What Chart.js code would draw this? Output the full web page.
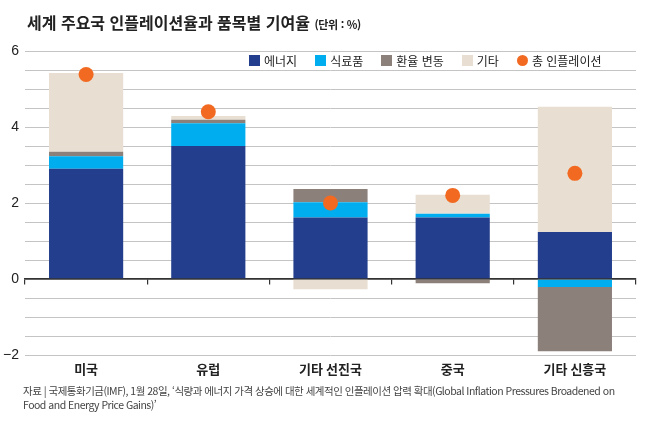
<!DOCTYPE html>
<html lang="ko">
<head>
<meta charset="utf-8">
<script src="https://cdn.jsdelivr.net/npm/chart.js@4/dist/chart.umd.min.js"></script>
<style>
  html, body { margin: 0; padding: 0; background: #fff; }
  #wrap { position: relative; width: 650px; height: 427px; overflow: hidden; font-family: 'Noto Sans CJK KR', sans-serif; }
  #chart { position: absolute; left: 0; top: 0; }
  #title { position: absolute; left: 27px; top: 10px; font-size: 16px; font-weight: bold; color: #222; letter-spacing: 0; white-space: nowrap; }
  #title small { font-size: 11px; letter-spacing: -0.3px; }
  #legend { position: absolute; left: 249px; top: 52px; display: flex; font-size: 12px; color: #222; white-space: nowrap; }
  #legend span.item { display: inline-flex; align-items: center; margin-right: 18px; }
  #legend span.box { width: 11px; height: 11px; margin-right: 4px; display: inline-block; }
  #legend span.dot { width: 11px; height: 11px; border-radius: 50%; margin-right: 4px; display: inline-block; }
  #source { position: absolute; left: 23px; top: 384px; font-size: 10.5px; line-height: 14px; color: #444; letter-spacing: -0.5px; white-space: nowrap; }
</style>
</head>
<body>
<div id="wrap">
  <canvas id="chart" width="650" height="427"></canvas>
  <div id="title">세계 주요국 인플레이션율과 품목별 기여율 <small>(단위 : %)</small></div>
  <div id="legend"></div>
  <div id="source">자료 | 국제통화기금(IMF), 1월 28일, ‘식량과 에너지 가격 상승에 대한 세계적인 인플레이션 압력 확대(Global Inflation Pressures Broadened on<br>Food and Energy Price Gains)’</div>
</div>
<script>
// 국가/권역별 품목 기여율 (%p)
const categories = ["미국", "유럽", "기타 선진국", "중국", "기타 신흥국"];
const energy = [2.9, 3.5, 1.62, 1.62, 1.24];
const food = [0.33, 0.6, 0.4, 0.1, -0.21];
const fxChange = [0.12, 0.09, 0.35, -0.11, -1.69];
const other = [2.07, 0.1, -0.27, 0.5, 3.29];
const totalInflation = [5.38, 4.4, 2.0, 2.2, 2.78];
const yTickLabels = [-2, 0, 2, 4, 6];

Chart.defaults.font.family = "'Noto Sans CJK KR', 'Liberation Sans', sans-serif";
Chart.defaults.color = "#222";
Chart.defaults.borderColor = "rgba(0,0,0,0)";

// html 범례 (데이터셋에서 생성)
const htmlLegend = {
  id: "htmlLegend",
  afterUpdate(chart) {
    const box = document.getElementById("legend");
    box.innerHTML = chart.data.datasets.map(ds => {
      const cls = ds.type === "line" ? "dot" : "box";
      return `<span class="item"><span class="${cls}" style="background:${ds.backgroundColor}"></span>${ds.label}</span>`;
    }).join("");
  }
};

const ctx = document.getElementById("chart").getContext("2d");
new Chart(ctx, {
  type: "bar",
  data: {
    labels: categories,
    datasets: [
      { label: "에너지", data: energy, backgroundColor: "#233E8C", order: 1 },
      { label: "식료품", data: food, backgroundColor: "#00AEEF", order: 1 },
      { label: "환율 변동", data: fxChange, backgroundColor: "#8C807B", order: 1 },
      { label: "기타", data: other, backgroundColor: "#E8DED1", order: 1 },
      {
        type: "line", label: "총 인플레이션", data: totalInflation, stack: "total",
        showLine: false, backgroundColor: "#F26A21", borderColor: "#F26A21",
        pointRadius: 7.5, pointBorderWidth: 0, pointHoverRadius: 7.5, order: 0
      }
    ]
  },
  options: {
    responsive: false,
    animation: false,
    layout: { padding: { left: 0, right: 14, top: 51, bottom: 42 } },
    datasets: { bar: { categoryPercentage: 1, barPercentage: 0.607, borderWidth: 0 } },
    plugins: { legend: { display: false }, tooltip: { enabled: false } },
    scales: {
      x: {
        stacked: true,
        grid: { display: false, drawTicks: false },
        border: { display: false, color: "rgba(0,0,0,0)", width: 0 },
        ticks: { padding: 6, font: { size: 13, weight: "bold" }, color: "#222" },
        afterFit(scale) { scale.height = 30; }
      },
      // 0 기준선과 구간 눈금
      x2: {
        type: "category",
        labels: categories,
        position: { y: 0 },
        offset: true,
        grid: { offset: true, drawOnChartArea: false, tickLength: 5, color: "#333", lineWidth: 1.2 },
        border: { display: true, color: "#333", width: 1.5 },
        ticks: { display: false },
        afterFit(scale) { scale.height = 0; }
      },
      y: {
        stacked: true,
        min: -2,
        max: 6,
        border: { display: false, color: "rgba(0,0,0,0)", width: 0 },
        grid: {
          drawTicks: false,
          color: c => c.tick.value === 0 ? "#333" : "#C4C4C4",
          lineWidth: c => c.tick.value === 0 ? 1.5 : 1
        },
        ticks: {
          stepSize: 0.5,
          padding: 6,
          autoSkip: false,
          font: { size: 14, family: "'Liberation Sans', sans-serif" },
          color: "#222",
          callback: v => yTickLabels.includes(v) ? (v < 0 ? "−" + Math.abs(v) : String(v)) : ""
        },
        afterFit(scale) { scale.width = 25; }
      }
    }
  },
  plugins: [htmlLegend]
});
</script>
</body>
</html>
